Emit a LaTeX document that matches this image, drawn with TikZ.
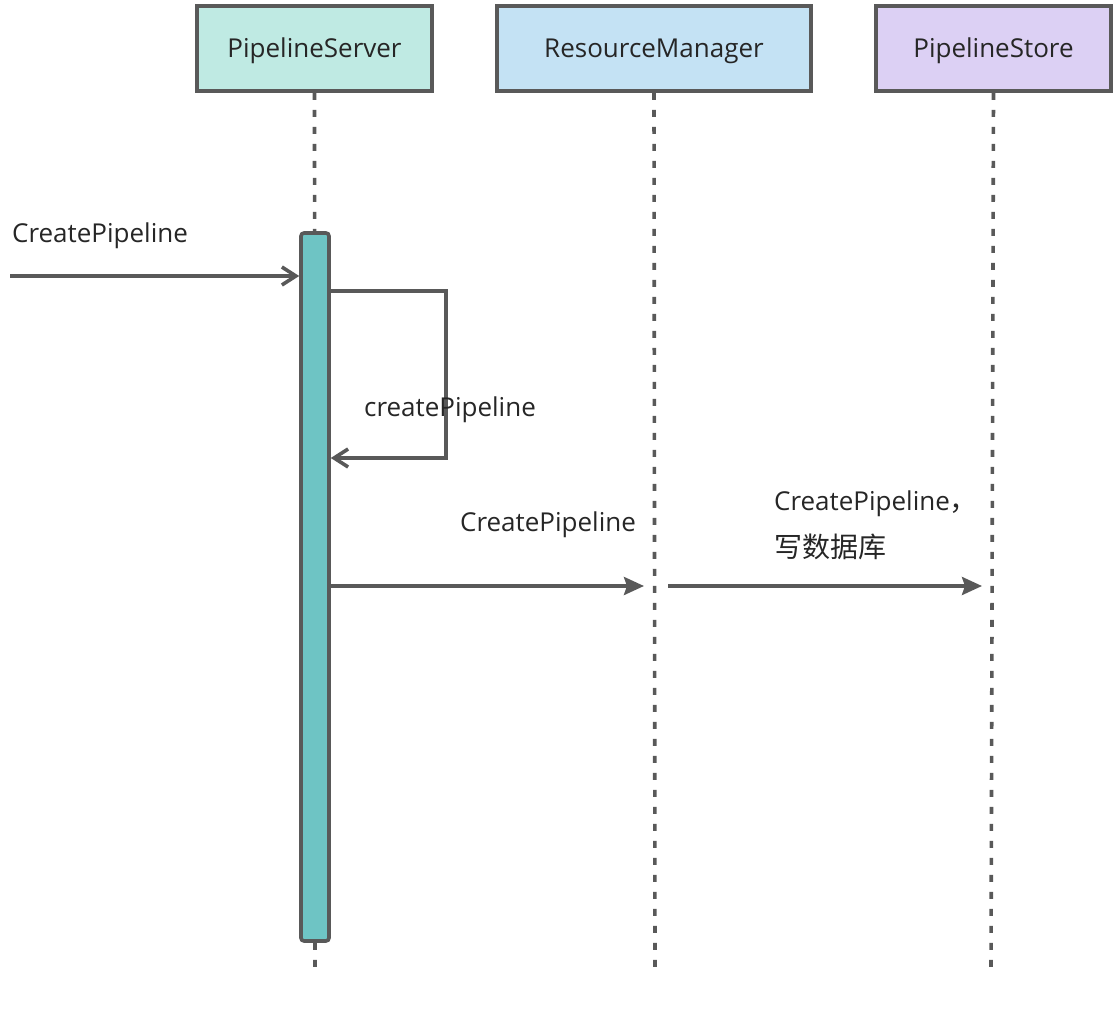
\documentclass[tikz,border=0pt]{standalone}
\usepackage{fontspec}
\setmainfont{Open Sans}
\newfontfamily\cjk{Noto Sans CJK SC}
\usetikzlibrary{arrows.meta,positioning}
\definecolor{linegray}{HTML}{595959}
\definecolor{textgray}{HTML}{262626}
\definecolor{serverfill}{HTML}{BFEAE3}
\definecolor{managerfill}{HTML}{C4E2F4}
\definecolor{storefill}{HTML}{DCD0F4}
\definecolor{barfill}{HTML}{6EC4C4}
\begin{document}
\begin{tikzpicture}[x=1pt, y=-1pt, line width=3.6pt,
    every node/.style={text=textgray, font=\fontsize{26}{30}\selectfont},
    head/.style={draw=linegray, minimum height=85pt, inner sep=0pt, text height=25pt, text depth=6pt},
    life/.style={draw=linegray, dash pattern=on 7pt off 10pt},
    actbar/.style={draw=linegray, fill=barfill, rounded corners=3pt, minimum width=28pt, minimum height=708pt, inner sep=0pt},
    msgopen/.style={draw=linegray, -{Straight Barb[length=14pt,width=18pt,line width=3.6pt]}},
    msgfill/.style={draw=linegray, -{Stealth[length=20pt,width=18pt,inset=3pt]}}]
	\useasboundingbox (0,0) rectangle (1120,1011);
	% heads
	\node [head, fill=serverfill, minimum width=235pt] (ps) at (314.5,48.5) {PipelineServer};
	\node [head, fill=managerfill, minimum width=314pt] (rm) at (654,48.5) {ResourceManager};
	\node [head, fill=storefill, minimum width=235pt] (pst) at (993.5,48.5) {PipelineStore};
	% lifelines
	\coordinate (ps end) at (315,968);
	\coordinate (rm end) at (655,968);
	\coordinate (pst end) at (991,968);
	\draw [life] (ps.south) -- (ps end);
	\draw [life] (rm.south) -- (rm end);
	\draw [life] (pst.south) -- (pst end);
	\node [actbar] (bar) at (315,587) {};
	% messages
	\coordinate (caller) at (10,276);
	\draw [msgopen] (caller) -- (caller -| bar.west);
	\node [anchor=west] (call label) at (7,236) {CreatePipeline};
	\coordinate (self top) at (446,291);
	\coordinate (self bot) at (446,458);
	\draw [msgopen] (self top -| bar.east) -- (self top) -- (self bot) -- (self bot -| bar.east);
	\node [anchor=west] (self label) at (359,410) {createPipeline};
	\coordinate (to rm) at (644,586);
	\draw [msgfill] (to rm -| bar.east) -- (to rm);
	\node [anchor=west] (rm label) at (455,525) {CreatePipeline};
	\coordinate (from rm) at (668,586);
	\coordinate (to pst) at (982,586);
	\draw [msgfill] (from rm) -- (to pst);
	\node [anchor=west, align=left, font=\fontsize{26}{47}\selectfont] (pst label) at (769,525) {CreatePipeline{\cjk\fontsize{28}{47}\selectfont ，}\\{\cjk\fontsize{28}{47}\selectfont 写数据库}};
\end{tikzpicture}
\end{document}
